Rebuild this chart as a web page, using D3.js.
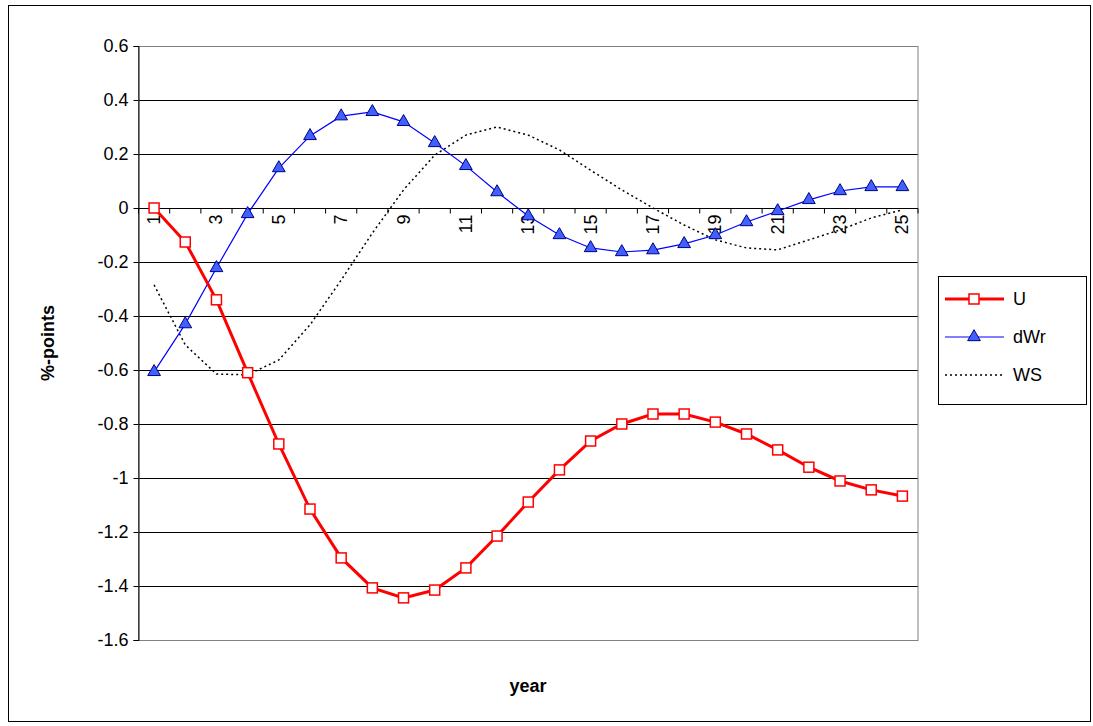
<!DOCTYPE html>
<html><head><meta charset="utf-8">
<script src="https://cdn.jsdelivr.net/npm/d3@7"></script>
<style>body{margin:0;background:#fff;font-family:Arial,"Liberation Sans",sans-serif}</style>
</head><body><div id="chart"></div>
<script>
// chart data
var years = d3.range(1, 26)
var uVals = [0,-0.126,-0.34,-0.61,-0.874,-1.115,-1.296,-1.407,-1.444,-1.415,-1.333,-1.215,-1.089,-0.97,-0.863,-0.8,-0.763,-0.763,-0.793,-0.837,-0.896,-0.96,-1.011,-1.044,-1.067]
var dwrVals = [-0.607,-0.43,-0.222,-0.022,0.148,0.267,0.34,0.356,0.319,0.241,0.156,0.059,-0.03,-0.1,-0.148,-0.163,-0.156,-0.133,-0.1,-0.052,-0.011,0.03,0.063,0.078,0.078]
var wsVals = [-0.285,-0.507,-0.615,-0.618,-0.563,-0.433,-0.267,-0.093,0.067,0.196,0.27,0.3,0.27,0.215,0.14,0.067,0,-0.063,-0.118,-0.148,-0.155,-0.118,-0.081,-0.037,-0.007]
var yTicks = [0.6,0.4,0.2,0,-0.2,-0.4,-0.6,-0.8,-1,-1.2,-1.4,-1.6]

var svg = d3.select('#chart').append('svg').attr('width', 1093).attr('height', 726)
svg.append('rect').attr('x', 8.5).attr('y', 5.5).attr('width', 1082).attr('height', 716)
  .attr('fill', '#fff').attr('stroke', '#000')

var x = d3.scaleBand().domain(years).range([138.5, 918])
var y = d3.scaleLinear().domain([-1.6, 0.6]).range([640, 46])
var cx = d => x(d) + x.bandwidth() / 2

// gridlines
svg.append('g').selectAll('line').data(yTicks).enter().append('line')
  .attr('x1', 138.5).attr('x2', 918).attr('y1', d => Math.round(y(d)) + 0.5).attr('y2', d => Math.round(y(d)) + 0.5)
  .attr('stroke', '#000').attr('stroke-width', 1)
svg.append('rect').attr('x', 138.5).attr('y', 46.5).attr('width', 779.5).attr('height', 594)
  .attr('fill', 'none').attr('stroke', '#808080')

var yAxis = d3.axisLeft(y).tickValues(yTicks).tickSize(5).tickFormat(d => String(+d.toFixed(1)))
var ga = svg.append('g').attr('transform', 'translate(138.5,0)').call(yAxis)
ga.select('.domain').attr('stroke', '#000')
ga.selectAll('text').attr('font-size', 18).attr('fill', '#000').attr('x', -10).attr('font-family', 'Arial, Liberation Sans')

// x axis at zero
var zy = Math.round(y(0)) + 0.5
svg.append('line').attr('x1', 138.5).attr('x2', 918).attr('y1', zy).attr('y2', zy).attr('stroke', '#000')
svg.append('g').selectAll('line').data(years.concat([26])).enter().append('line')
  .attr('x1', d => d === 26 ? 918 : x(d)).attr('x2', d => d === 26 ? 918 : x(d))
  .attr('y1', zy).attr('y2', zy + 5).attr('stroke', '#000')
svg.append('g').selectAll('text').data(years.filter(d => d % 2 === 1)).enter().append('text')
  .attr('transform', d => `translate(${cx(d) + 6},${zy + 6}) rotate(-90)`)
  .attr('text-anchor', 'end').attr('font-size', 18).text(d => d)

var line = d3.line().x((d, i) => cx(years[i])).y(d => y(d))
svg.append('path').datum(wsVals).attr('d', line).attr('fill', 'none').attr('stroke', '#000')
  .attr('stroke-width', 1.5).attr('stroke-dasharray', '2,3')
svg.append('path').datum(dwrVals).attr('d', line).attr('fill', 'none').attr('stroke', '#0000ff').attr('stroke-width', 1.2)
svg.append('path').datum(uVals).attr('d', line).attr('fill', 'none').attr('stroke', '#ff0000').attr('stroke-width', 3)

var tri = d3.symbol().type(d3.symbolTriangle).size(70)
svg.append('g').selectAll('path').data(dwrVals).enter().append('path')
  .attr('d', tri).attr('transform', (d, i) => `translate(${cx(years[i])},${y(d)})`)
  .attr('fill', '#4060ff').attr('stroke', '#000080').attr('stroke-width', 1)
svg.append('g').selectAll('rect').data(uVals).enter().append('rect')
  .attr('x', (d, i) => cx(years[i]) - 5).attr('y', d => y(d) - 5).attr('width', 10).attr('height', 10)
  .attr('fill', '#fff').attr('stroke', '#ff0000').attr('stroke-width', 1.5)

// axis titles
svg.append('text').attr('x', 528).attr('y', 692).attr('text-anchor', 'middle')
  .attr('font-size', 18).attr('font-weight', 'bold').text('year')
svg.append('text').attr('transform', 'translate(54,343) rotate(-90)').attr('text-anchor', 'middle')
  .attr('font-size', 18).attr('font-weight', 'bold').text('%-points')

// legend
var lg = svg.append('g')
lg.append('rect').attr('x', 938.5).attr('y', 276.5).attr('width', 148).attr('height', 128).attr('fill', '#fff').attr('stroke', '#000')
var items = [['U', 'u'], ['dWr', 'd'], ['WS', 'w']]
items.forEach(function(it, i) {
  var ly = 299 + i * 38
  var l = lg.append('line').attr('x1', 945).attr('x2', 1004).attr('y1', ly).attr('y2', ly)
  if (it[1] === 'u') {
    l.attr('stroke', '#ff0000').attr('stroke-width', 3)
    lg.append('rect').attr('x', 969).attr('y', ly - 5).attr('width', 10).attr('height', 10).attr('fill', '#fff').attr('stroke', '#ff0000').attr('stroke-width', 1.5)
  } else if (it[1] === 'd') {
    l.attr('stroke', '#0000ff').attr('stroke-width', 1.2)
    lg.append('path').attr('d', tri).attr('transform', `translate(974,${ly})`).attr('fill', '#4060ff').attr('stroke', '#000080')
  } else {
    l.attr('stroke', '#000').attr('stroke-width', 1.5).attr('stroke-dasharray', '2,3')
  }
  lg.append('text').attr('x', 1013).attr('y', ly + 6).attr('font-size', 18).text(it[0])
})
</script></body></html>
